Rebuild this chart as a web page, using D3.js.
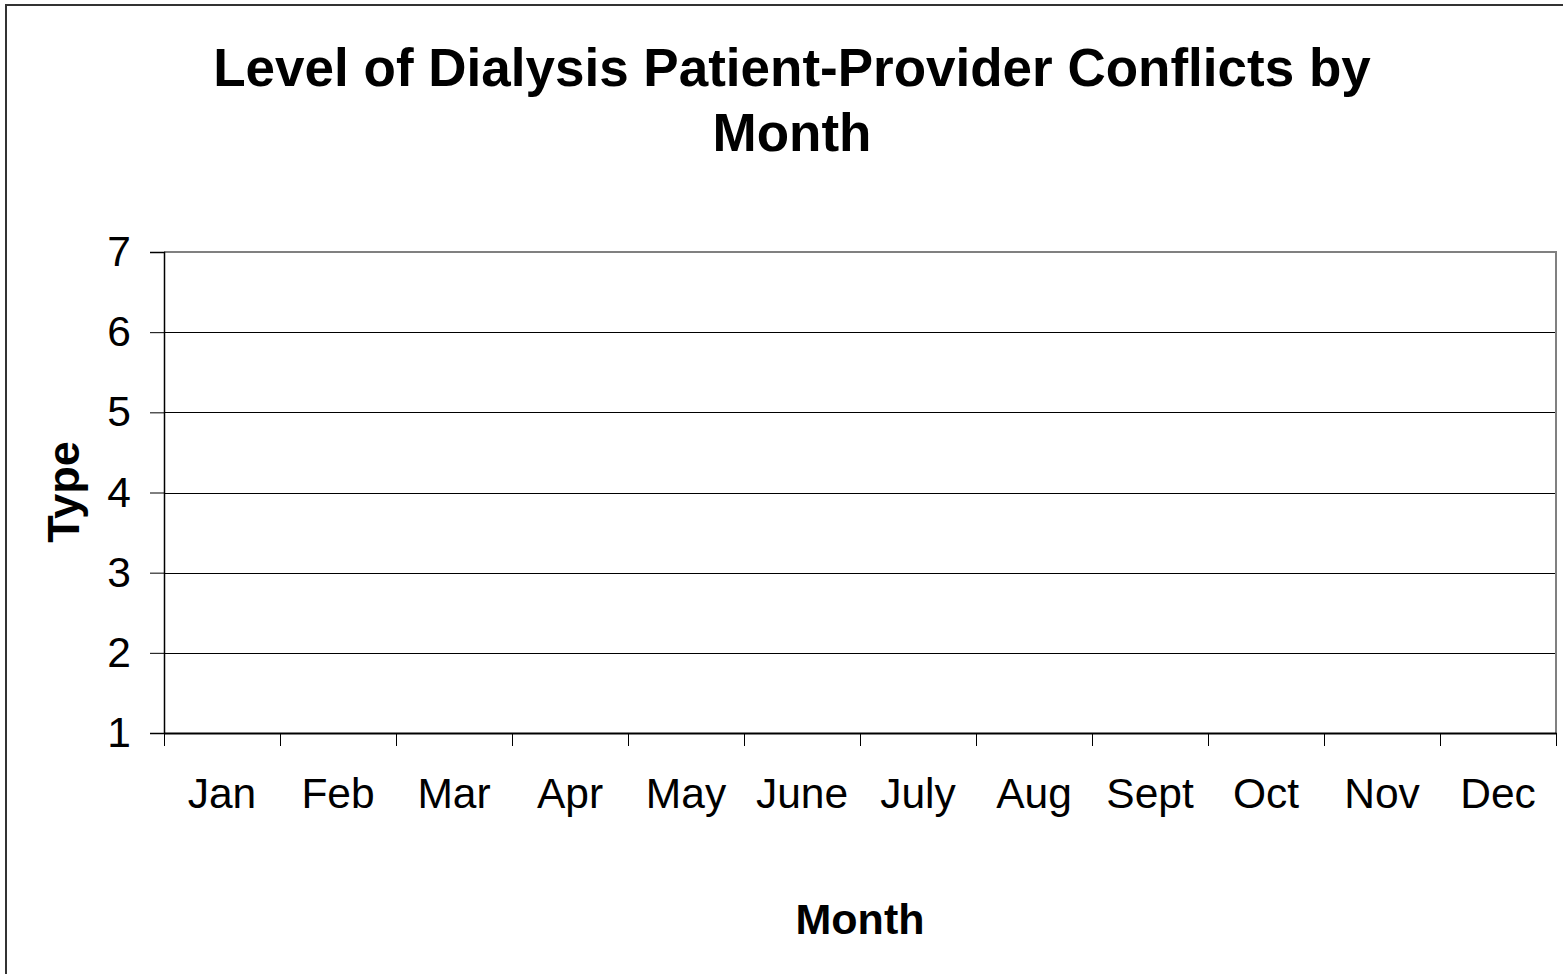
<!DOCTYPE html>
<html>
<head>
<meta charset="utf-8">
<script src="https://cdn.jsdelivr.net/npm/d3@7"></script>
<style>
  html, body { margin: 0; padding: 0; background: #fff; }
  svg { display: block; font-family: "Liberation Sans", Arial, sans-serif; }
</style>
</head>
<body>
<div id="chart"></div>
<script>
// Chart data (the original chart has no plotted series)
const months = ['Jan', 'Feb', 'Mar', 'Apr', 'May', 'June', 'July', 'Aug', 'Sept', 'Oct', 'Nov', 'Dec'];
const yTicks = [1, 2, 3, 4, 5, 6, 7];
const conflicts = [];

const width = 1563;
const height = 974;
const plot = { left: 164, top: 252, right: 1556, bottom: 733 };

const svg = d3.select('#chart').append('svg')
  .attr('width', width)
  .attr('height', height);

// outer chart frame (cut off on the right and bottom)
svg.append('rect')
  .attr('x', 6)
  .attr('y', 5)
  .attr('width', width + 20)
  .attr('height', height + 20)
  .attr('fill', '#fff')
  .attr('stroke', '#333')
  .attr('stroke-width', 2);

// scales
const x = d3.scaleBand()
  .domain(months)
  .range([plot.left, plot.right]);

const y = d3.scaleLinear()
  .domain([d3.min(yTicks), d3.max(yTicks)])
  .range([plot.bottom, plot.top]);

// gridlines
svg.append('g')
  .selectAll('line')
  .data(yTicks.slice(1, -1))
  .join('line')
  .attr('x1', plot.left)
  .attr('x2', plot.right)
  .attr('y1', d => Math.round(y(d)) + 0.5)
  .attr('y2', d => Math.round(y(d)) + 0.5)
  .attr('stroke', '#000')
  .attr('stroke-width', 1);

// plot area border (top and right in gray)
svg.append('path')
  .attr('d', `M${plot.left},${y(7)}H${plot.right}V${plot.bottom}`)
  .attr('fill', 'none')
  .attr('stroke', '#808080')
  .attr('stroke-width', 2);

// y axis
const yAxis = d3.axisLeft(y)
  .tickValues(yTicks)
  .tickFormat(d3.format('d'))
  .tickSize(14)
  .tickPadding(19);

svg.append('g')
  .attr('transform', `translate(${plot.left},0)`)
  .call(yAxis)
  .call(g => g.select('.domain').attr('stroke', '#000').attr('stroke-width', 1.5))
  .call(g => g.selectAll('.tick line').attr('stroke', '#000'))
  .call(g => g.selectAll('.tick text')
    .attr('fill', '#000')
    .style('font-size', '42.5px'));

// x axis: ticks between categories
const xAxis = d3.axisBottom(x)
  .tickSize(0)
  .tickPadding(45);

svg.append('g')
  .attr('transform', `translate(0,${plot.bottom})`)
  .call(xAxis)
  .call(g => g.select('.domain').attr('stroke', '#000').attr('stroke-width', 2))
  .call(g => g.selectAll('.tick text')
    .attr('fill', '#000')
    .style('font-size', '42.5px'));

svg.append('g')
  .selectAll('line')
  .data(months.map(m => x(m)).concat([plot.right]))
  .join('line')
  .attr('x1', d => Math.round(d) + 0.5)
  .attr('x2', d => Math.round(d) + 0.5)
  .attr('y1', plot.bottom)
  .attr('y2', plot.bottom + 13)
  .attr('stroke', '#000');

// no series values to draw
svg.append('g')
  .selectAll('circle')
  .data(conflicts)
  .join('circle')
  .attr('cx', d => x(d.month) + x.bandwidth() / 2)
  .attr('cy', d => y(d.value))
  .attr('r', 5);

// title
const title = svg.append('text')
  .attr('x', 792)
  .attr('y', 86)
  .attr('text-anchor', 'middle')
  .style('font-size', '53px')
  .style('font-weight', 'bold');
title.append('tspan').attr('x', 792).text('Level of Dialysis Patient-Provider Conflicts by');
title.append('tspan').attr('x', 792).attr('dy', 65).text('Month');

// axis titles
svg.append('text')
  .attr('x', (plot.left + plot.right) / 2)
  .attr('y', 934)
  .attr('text-anchor', 'middle')
  .style('font-size', '43px')
  .style('font-weight', 'bold')
  .text('Month');

svg.append('text')
  .attr('transform', `translate(79,492) rotate(-90)`)
  .attr('text-anchor', 'middle')
  .style('font-size', '45px')
  .style('font-weight', 'bold')
  .text('Type');
</script>
</body>
</html>
